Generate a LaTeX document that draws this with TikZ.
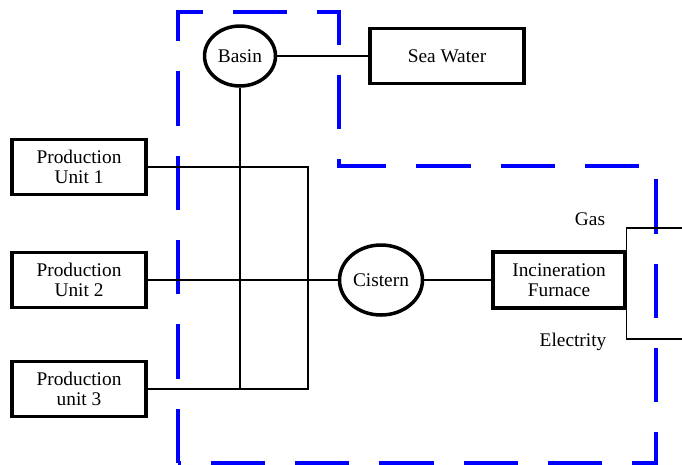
\documentclass[tikz,border=0pt]{standalone}
\usepackage{fontspec}
\setmainfont{Liberation Serif}
\usetikzlibrary{shapes.geometric}
\tikzset{
  unitbox/.style={draw, line width=2pt, minimum width=2.68cm, minimum height=1.1cm, align=center, font=\fontsize{11}{11.5}\selectfont},
  tank/.style={draw, ellipse, line width=2pt, inner sep=0pt, font=\fontsize{11}{11.5}\selectfont},
  pipe/.style={line width=0.7pt},
  zone/.style={blue, line width=2.2pt, dash pattern=on 31pt off 17pt}
}
\begin{document}
\begin{tikzpicture}[x=0.02cm,y=-0.02cm]
                \useasboundingbox (0,0) rectangle (682,464);
                \draw [zone] (178,463) -- (178,12) -- (339,12) -- (339,166) -- (656,166) -- (656,463) -- cycle;

                \node [tank, minimum width=1.42cm, minimum height=1.2cm] (basin) at (240,56) {Basin};
                \node [unitbox, minimum width=3.08cm] (sea) at (447,56) {Sea Water};
                \node [unitbox] (unit1) at (79,167) {Production\\Unit 1};
                \node [unitbox] (unit2) at (79,280) {Production\\Unit 2};
                \node [unitbox] (unit3) at (79,389) {Production\\unit 3};
                \node [tank, minimum width=1.66cm, minimum height=1.4cm] (cistern) at (381,280) {Cistern};
                \node [unitbox, minimum width=2.64cm, minimum height=1.12cm] (furnace) at (559,280) {Incineration\\Furnace};
                \node [font=\fontsize{11}{11.5}\selectfont] (gas) at (590,219) {Gas};
                \node [font=\fontsize{11}{11.5}\selectfont] (elec) at (573,342) {Electrity};
                \coordinate (gasout) at (682,228);
                \coordinate (elecout) at (682,339);
                \coordinate (merge) at (308,389);

                \draw [pipe] (basin) -- (sea);
                \draw [pipe] (unit1.east) -| (merge) -- (unit3.east);
                \draw [pipe] (basin.south) -- (basin.south |- unit3.east);
                \draw [pipe] (unit2) -- (cistern);
                \draw [pipe] (cistern) -- (furnace);
                \draw [pipe] (furnace.north east) |- (gasout);
                \draw [pipe] (furnace.south east) |- (elecout);
            \end{tikzpicture}
\end{document}
